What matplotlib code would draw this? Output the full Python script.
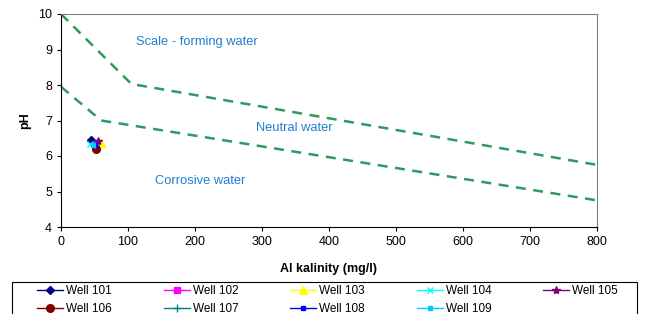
import matplotlib
matplotlib.use("Agg")
from matplotlib import pyplot as plt
from matplotlib.patches import Rectangle

plt.rcParams['font.family'] = ['Liberation Sans', 'DejaVu Sans']

# boundary lines (alkalinity, pH)
upper_x = [0, 105, 800]
upper_y = [10.0, 8.03, 5.75]
lower_x = [0, 60, 800]
lower_y = [7.95, 7.0, 4.75]

wells = ["Well 101", "Well 102", "Well 103", "Well 104", "Well 105",
         "Well 106", "Well 107", "Well 108", "Well 109"]
alk = [45, 53, 60, 43, 55, 52, 50, 50, 48]
ph = [6.45, 6.37, 6.37, 6.34, 6.43, 6.2, 6.3, 6.3, 6.3]
colors = ["#000080", "#ff00ff", "#ffff00", "#00ffff", "#800080",
          "#800000", "#008080", "#0000ff", "#00ccff"]
markers = ["D", "s", "^", "x", "*", "o", "+", "s", "s"]
msizes = [4.5, 5, 5.5, 5, 6, 5.5, 6, 2.5, 2.5]

fig = plt.figure(figsize=(6.45, 3.14), dpi=100)
ax = fig.add_axes([61 / 645, 1 - 227 / 314, 536 / 645, 213 / 314])

ax.plot(upper_x, upper_y, color="#2e9a5e", lw=1.8, ls=(0, (4, 3)))
ax.plot(lower_x, lower_y, color="#2e9a5e", lw=1.8, ls=(0, (4, 3)))

handles = []
for name, x, y, c, m, s in zip(wells, alk, ph, colors, markers, msizes):
    h, = ax.plot([x], [y], color=c, marker=m, ms=s, mew=1.0, lw=1.0,
                 label=name)
    handles.append(h)

ax.text(203, 9.22, "Scale - forming water", color="#1f7fd0", fontsize=9.3,
        ha="center", va="center")
ax.text(348, 6.79, "Neutral water", color="#1f7fd0", fontsize=9.3,
        ha="center", va="center")
ax.text(207, 5.30, "Corrosive water", color="#1f7fd0", fontsize=9.3,
        ha="center", va="center")

ax.set_xlim(0, 800)
ax.set_ylim(4, 10)
ax.set_xticks(range(0, 801, 100))
ax.set_yticks(range(4, 11))
ax.tick_params(labelsize=9, direction="out", length=3)
for s in ["top", "right"]:
    ax.spines[s].set_color("#808080")
ax.set_xlabel("Al kalinity (mg/l)", fontsize=9, fontweight="bold", labelpad=11)
ax.set_ylabel("pH", fontsize=9, fontweight="bold", labelpad=5)

# row-major order for a 5 column legend
order = [0, 5, 1, 6, 2, 7, 3, 8, 4]
leg = fig.legend(handles=[handles[i] for i in order], loc="upper left", ncol=5,
                 bbox_to_anchor=(37 / 645, 1 - 285 / 314), fontsize=8.5,
                 frameon=False, handlelength=2.2, columnspacing=4.4,
                 borderpad=0, borderaxespad=0, labelspacing=0.5,
                 handletextpad=0.25)
fig.patches.append(Rectangle((11.7 / 645, -0.05), (637 - 11.7) / 645,
                             0.05 + 1 - 282 / 314, transform=fig.transFigure,
                             fill=False, edgecolor="black", lw=0.8))

fig.savefig("out.png", dpi=100)
